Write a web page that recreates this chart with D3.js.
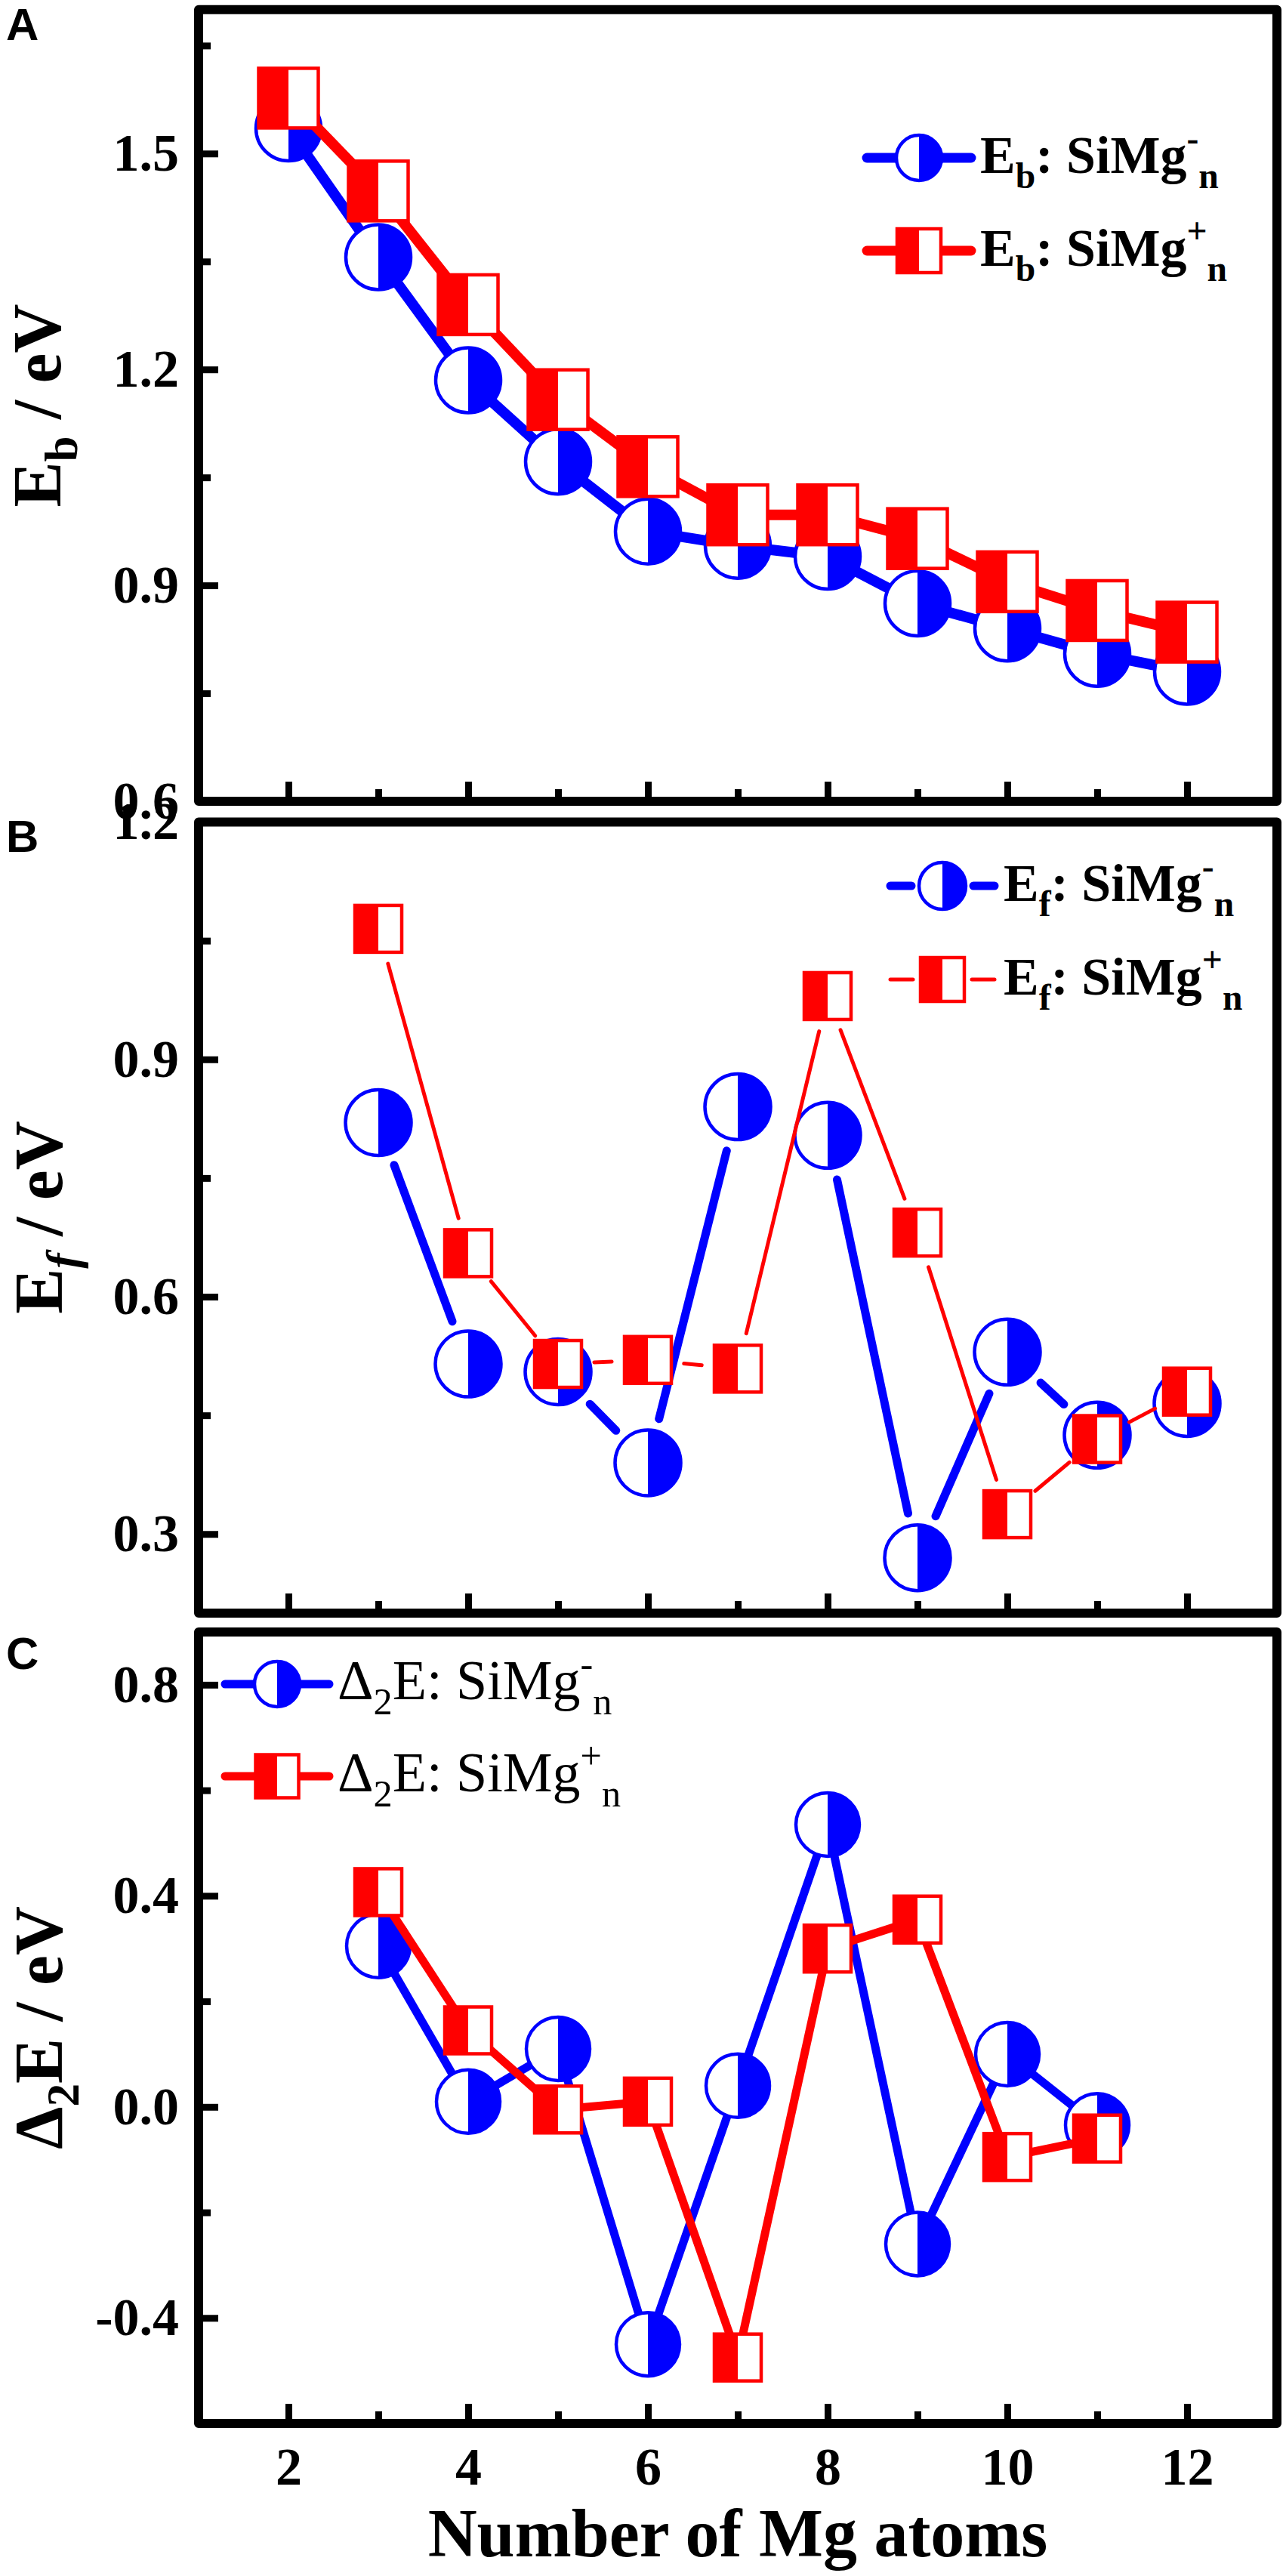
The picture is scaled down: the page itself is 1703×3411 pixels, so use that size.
<!DOCTYPE html>
<html>
<head>
<meta charset="utf-8">
<style>
  body { margin: 0; background: white; }
  svg { display: block; }
</style>
</head>
<body>
<svg width="1703" height="3411"></svg>

<script src="https://d3js.org/d3.v7.min.js"></script>
<script>
// ---- data ----
const nA = [2, 3, 4, 5, 6, 7, 8, 9, 10, 11, 12];
const ebMinus = [1.535, 1.356, 1.185, 1.072, 0.975, 0.955, 0.940, 0.875, 0.840, 0.805, 0.780];
const ebPlus  = [1.577, 1.448, 1.290, 1.158, 1.065, 0.998, 0.998, 0.965, 0.905, 0.865, 0.835];

const nB = [3, 4, 5, 6, 7, 8, 9, 10, 11, 12];
const efMinus = [0.820, 0.515, 0.505, 0.390, 0.840, 0.804, 0.270, 0.530, 0.425, 0.465];
const efPlus  = [1.065, 0.655, 0.515, 0.520, 0.509, 0.980, 0.681, 0.325, 0.420, 0.480];

const nC = [3, 4, 5, 6, 7, 8, 9, 10, 11];
const d2eMinus = [0.305, 0.010, 0.110, -0.450, 0.040, 0.535, -0.260, 0.100, -0.035];
const d2ePlus  = [0.407, 0.145, -0.005, 0.010, -0.475, 0.300, 0.355, -0.095, -0.060];

const xMajor = [2, 4, 6, 8, 10, 12];
const xMinor = [1, 3, 5, 7, 9, 11, 13];
const yMajorA = [0.6, 0.9, 1.2, 1.5], yMinorA = [0.75, 1.05, 1.35, 1.65];
const yMajorB = [0.3, 0.6, 0.9, 1.2], yMinorB = [0.45, 0.75, 1.05];
const yMajorC = [-0.4, 0.0, 0.4, 0.8], yMinorC = [-0.2, 0.2, 0.6];

const BLUE = "#0000ff", RED = "#ff0000";
const SERIF = "'Liberation Serif', 'Times New Roman', serif";

let svg = d3.select("svg");

// shared x scale
let L = 263, R = 1691;
let x = d3.scaleLinear().domain([1, 13]).range([L, R]);

// three stacked panels
let yA = d3.scaleLinear().domain([0.6, 1.7]).range([1061, 12.7]);
let yB = d3.scaleLinear().domain([0.2, 1.2]).range([2136, 1088.5]);
let yC = d3.scaleLinear().domain([-0.6, 0.9]).range([3209, 2161]);

// rich text helper: parts = [{t, s:'sub'|'sup', i:true}]
function rich(g, px, py, parts, size, weight, shift, rotate) {
    let t = g.append("text")
        .attr("font-family", SERIF)
        .attr("font-weight", weight)
        .attr("font-size", size);
    if (rotate) {
        t.attr("transform", "translate(" + px + "," + py + ") rotate(-90)")
         .attr("text-anchor", "middle");
    } else {
        t.attr("x", px).attr("y", py);
    }
    let cur = 0;
    parts.forEach(p => {
        let off = p.s == "sub" ? shift : p.s == "sup" ? -shift * 1.5 : 0;
        let sp = t.append("tspan")
            .text(p.t)
            .attr("dy", off - cur)
            .attr("font-size", p.s ? size * 0.68 : size);
        if (p.i) sp.attr("font-style", "italic");
        cur = off;
    });
    return t;
}

function halfCircle(g, cx, cy, r, sw) {
    g.append("circle").attr("cx", cx).attr("cy", cy).attr("r", r)
        .style("fill", "white").style("stroke", BLUE).style("stroke-width", sw);
    g.append("path")
        .attr("d", "M" + cx + "," + (cy - r) + " A" + r + "," + r + " 0 0 1 " + cx + "," + (cy + r) + " Z")
        .style("fill", BLUE);
}

function halfSquare(g, cx, cy, s, sw) {
    g.append("rect").attr("x", cx - s / 2).attr("y", cy - s / 2).attr("width", s).attr("height", s)
        .style("fill", "white").style("stroke", RED).style("stroke-width", sw);
    g.append("rect").attr("x", cx - s / 2).attr("y", cy - s / 2).attr("width", s / 2).attr("height", s)
        .style("fill", RED);
}

// draws one series: line + half-filled markers
function series(g, ns, vals, y, opt) {
    let pts = ns.map((n, i) => [x(n), y(vals[i])]);
    if (opt.gap) {
        // line broken around each marker
        for (let i = 0; i < pts.length - 1; i++) {
            let [x1, y1] = pts[i], [x2, y2] = pts[i + 1];
            let dx = x2 - x1, dy = y2 - y1, len = Math.sqrt(dx * dx + dy * dy);
            if (len < 2 * opt.gap + 8) continue; // nothing left to draw
            let ux = dx / len, uy = dy / len;
            g.append("line")
                .attr("x1", x1 + ux * opt.gap).attr("y1", y1 + uy * opt.gap)
                .attr("x2", x2 - ux * opt.gap).attr("y2", y2 - uy * opt.gap)
                .style("stroke", opt.color).style("stroke-width", opt.lw)
                .style("stroke-linecap", "round");
        }
    } else {
        g.append("path")
            .attr("d", d3.line()(pts))
            .style("fill", "none").style("stroke", opt.color)
            .style("stroke-width", opt.lw).style("stroke-linejoin", "round");
    }
    pts.forEach(p => {
        if (opt.shape == "circle") halfCircle(g, p[0], p[1], opt.size, 4.5);
        else halfSquare(g, p[0], p[1], opt.size, 4.5);
    });
}

function legendItem(g, x1, x2, cy, opt, tx, parts, weight, fs) {
    let cx = (x1 + x2) / 2;
    let half = opt.shape == "circle" ? opt.size : opt.size / 2;
    if (opt.gap) {
        g.append("line").attr("x1", x1).attr("x2", cx - half - 10).attr("y1", cy).attr("y2", cy)
            .style("stroke", opt.color).style("stroke-width", opt.lw).style("stroke-linecap", "round");
        g.append("line").attr("x1", cx + half + 10).attr("x2", x2).attr("y1", cy).attr("y2", cy)
            .style("stroke", opt.color).style("stroke-width", opt.lw).style("stroke-linecap", "round");
    } else {
        g.append("line").attr("x1", x1).attr("x2", x2).attr("y1", cy).attr("y2", cy)
            .style("stroke", opt.color).style("stroke-width", opt.lw).style("stroke-linecap", "round");
    }
    if (opt.shape == "circle") halfCircle(g, cx, cy, opt.size, 4.5);
    else halfSquare(g, cx, cy, opt.size, 4.5);
    rich(g, tx, cy + 20, parts, fs || 70, weight, 20, false);
}

// tick labels with a plain hyphen for negatives, like the original
let fmtY = d => d3.format(".1f")(d).replace("\u2212", "-");

function axes(g, y, top, bottom, majY, minY) {
    // minor ticks
    g.append("g").attr("transform", "translate(" + L + ",0)")
        .call(d3.axisLeft(y).tickValues(minY).tickSize(-16).tickFormat(""));
    g.append("g").attr("transform", "translate(0," + bottom + ")")
        .call(d3.axisBottom(x).tickValues(xMinor).tickSize(-16).tickFormat(""));
    // major ticks
    g.append("g").attr("class", "yax").attr("transform", "translate(" + L + ",0)")
        .call(d3.axisLeft(y).tickValues(majY).tickSize(-26).tickPadding(26).tickFormat(fmtY));
    g.append("g").attr("class", "xax").attr("transform", "translate(0," + bottom + ")")
        .call(d3.axisBottom(x).tickValues(xMajor).tickSize(-26).tickPadding(31).tickFormat(d3.format("d")));
    g.selectAll(".domain").remove();
    g.selectAll(".tick line").style("stroke", "black").style("stroke-width", 9);
    g.selectAll(".tick text")
        .attr("font-family", SERIF)
        .style("font-family", SERIF)
        .style("font-weight", "bold")
        .style("font-size", "70px")
        .style("fill", "black");
    // frame
    g.append("rect").attr("x", L).attr("y", top).attr("width", R - L).attr("height", bottom - top)
        .style("fill", "none").style("stroke", "black").style("stroke-width", 12)
        .style("stroke-linejoin", "round");
}

function panelLetter(txt, y) {
    svg.append("text").text(txt).attr("x", 8).attr("y", y)
        .attr("font-family", "'Liberation Sans', Arial, sans-serif")
        .attr("font-weight", "bold").attr("font-size", 60);
}

// ---------- Panel A ----------
let gA = svg.append("g");
let blueA = { color: BLUE, lw: 14, shape: "circle", size: 43 };
let redA = { color: RED, lw: 14, shape: "square", size: 79 };
series(gA, nA, ebMinus, yA, blueA);
series(gA, nA, ebPlus, yA, redA);
axes(gA, yA, 12.7, 1061, yMajorA, yMinorA);
gA.selectAll(".xax .tick text").remove();
legendItem(gA, 1148, 1286, 209, Object.assign({}, blueA, { size: 30, lw: 13 }), 1298,
    [{ t: "E" }, { t: "b", s: "sub" }, { t: ": SiMg" }, { t: "-", s: "sup" }, { t: "n", s: "sub" }], "bold");
legendItem(gA, 1148, 1286, 332, Object.assign({}, redA, { size: 58, lw: 13 }), 1298,
    [{ t: "E" }, { t: "b", s: "sub" }, { t: ": SiMg" }, { t: "+", s: "sup" }, { t: "n", s: "sub" }], "bold");
rich(svg, 80, 537, [{ t: "E" }, { t: "b", s: "sub" }, { t: " / eV" }], 90, "bold", 22, true);
panelLetter("A", 53);

// ---------- Panel B ----------
let gB = svg.append("g");
let blueB = { color: BLUE, lw: 11, shape: "circle", size: 43.5, gap: 60 };
let redB = { color: RED, lw: 5, shape: "square", size: 62, gap: 48 };
series(gB, nB, efMinus, yB, blueB);
series(gB, nB, efPlus, yB, redB);
axes(gB, yB, 1088.5, 2136, yMajorB, yMinorB);
gB.selectAll(".xax .tick text").remove();
legendItem(gB, 1179, 1317, 1173, Object.assign({}, blueB, { size: 31 }), 1329,
    [{ t: "E" }, { t: "f", s: "sub" }, { t: ": SiMg" }, { t: "-", s: "sup" }, { t: "n", s: "sub" }], "bold");
legendItem(gB, 1179, 1317, 1297, Object.assign({}, redB, { size: 58 }), 1329,
    [{ t: "E" }, { t: "f", s: "sub" }, { t: ": SiMg" }, { t: "+", s: "sup" }, { t: "n", s: "sub" }], "bold");
rich(svg, 82, 1612, [{ t: "E" }, { t: "f", s: "sub", i: true }, { t: " / eV" }], 90, "bold", 22, true);
panelLetter("B", 1128);

// ---------- Panel C ----------
let gC = svg.append("g");
let blueC = { color: BLUE, lw: 11, shape: "circle", size: 42 };
let redC = { color: RED, lw: 11, shape: "square", size: 62 };
series(gC, nC, d2eMinus, yC, blueC);
series(gC, nC, d2ePlus, yC, redC);
axes(gC, yC, 2161, 3209, yMajorC, yMinorC);
legendItem(gC, 298, 436, 2230, Object.assign({}, blueC, { size: 30 }), 447,
    [{ t: "Δ" }, { t: "2", s: "sub" }, { t: "E: SiMg" }, { t: "-", s: "sup" }, { t: "n", s: "sub" }], "normal", 74);
legendItem(gC, 298, 436, 2352, Object.assign({}, redC, { size: 57 }), 447,
    [{ t: "Δ" }, { t: "2", s: "sub" }, { t: "E: SiMg" }, { t: "+", s: "sup" }, { t: "n", s: "sub" }], "normal", 74);
rich(svg, 82, 2685, [{ t: "Δ" }, { t: "2", s: "sub" }, { t: "E / eV" }], 90, "bold", 22, true);
panelLetter("C", 2210);

// x axis title
svg.append("text").text("Number of Mg atoms")
    .attr("x", (L + R) / 2).attr("y", 3385)
    .attr("text-anchor", "middle")
    .attr("font-family", SERIF).attr("font-weight", "bold").attr("font-size", 90);
</script>
</body>
</html>
